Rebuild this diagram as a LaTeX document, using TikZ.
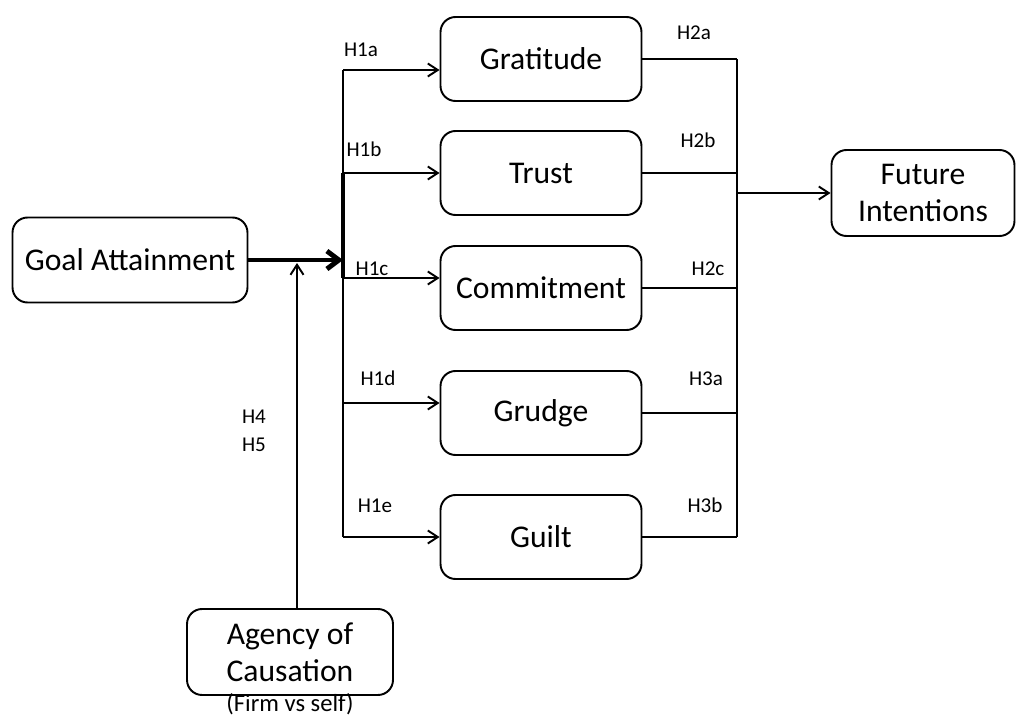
\documentclass[tikz,border=0pt]{standalone}
\usepackage{fontspec}
\setmainfont{Carlito}
\usetikzlibrary{arrows.meta,positioning,calc}
\tikzset{
  blokk/.style={draw,rounded corners=0.3cm,align=center,inner sep=2pt,
    font=\fontsize{18}{21}\selectfont},
  hyp/.style={font=\fontsize{12}{14}\selectfont,inner sep=0pt},
  nyl/.style={-{Straight Barb[length=2mm,width=2.6mm]}},
  vast/.style={line width=2.8pt,-{Straight Barb[length=2.4mm,width=3.6mm]}},
}
\begin{document}
\begin{tikzpicture}[x=0.02cm,y=-0.02cm,line width=1.1pt]
  \useasboundingbox (0,0) rectangle (1019,717);
  % boxes
  \node[blokk,minimum width=4.7cm,minimum height=1.7cm] (ga) at (130,260) {Goal Attainment};
  \foreach \n/\t/\y in {gr/Gratitude/59, tr/Trust/173, co/Commitment/288, gd/Grudge/413, gu/Guilt/537}
    \node[blokk,minimum width=4.02cm,minimum height=1.68cm] (\n) at (541,\y) {\t};
  \node[blokk,minimum width=3.66cm,minimum height=1.72cm] (fi) at (923,193) {Future\\Intentions};
  \node[blokk,minimum width=4.12cm,minimum height=1.72cm] (ac) at (290,652) {Agency of\\Causation};
  \node[font=\fontsize{14}{16}\selectfont,inner sep=0pt] (fs) at (290,704) {(Firm vs self)};
  % left bar and paths to the emotions
  \coordinate (bl) at (343,0);
  \foreach \n/\y in {gr/70, tr/173, co/278, gd/403, gu/537} {
    \coordinate (b\n) at (343,\y);
    \draw[nyl] (b\n) -- (b\n -| \n.west);
  }
  \draw (bgr) -- (bgu);
  \draw[line width=2.2pt] (btr) -- (bco);
  \draw[vast] (ga.east) -- (ga.east -| bl);
  \coordinate (ak) at (297,263);
  \draw[nyl] (ak |- ac.north) -- (ak);
  % right bar
  \coordinate (rb) at (737,0);
  \foreach \n in {gr,tr,co,gd,gu}
    \draw (\n.east) -- (\n.east -| rb);
  \draw (gr.east -| rb) -- (gu.east -| rb);
  \draw[nyl] (fi.west -| rb) -- (fi.west);
  % hypothesis labels
  \node[hyp] (h1a) at (361,50) {H1a};
  \node[hyp] (h1b) at (364,149) {H1b};
  \node[hyp] (h1c) at (372,269) {H1c};
  \node[hyp] (h1d) at (378,378) {H1d};
  \node[hyp] (h1e) at (375,506) {H1e};
  \node[hyp] (h2a) at (694,33) {H2a};
  \node[hyp] (h2b) at (698,140) {H2b};
  \node[hyp] (h2c) at (708,269) {H2c};
  \node[hyp] (h3a) at (706,379) {H3a};
  \node[hyp] (h3b) at (705,505) {H3b};
  \node[hyp] (h4) at (254,417) {H4};
  \node[hyp] (h5) at (254,445) {H5};
\end{tikzpicture}
\end{document}
